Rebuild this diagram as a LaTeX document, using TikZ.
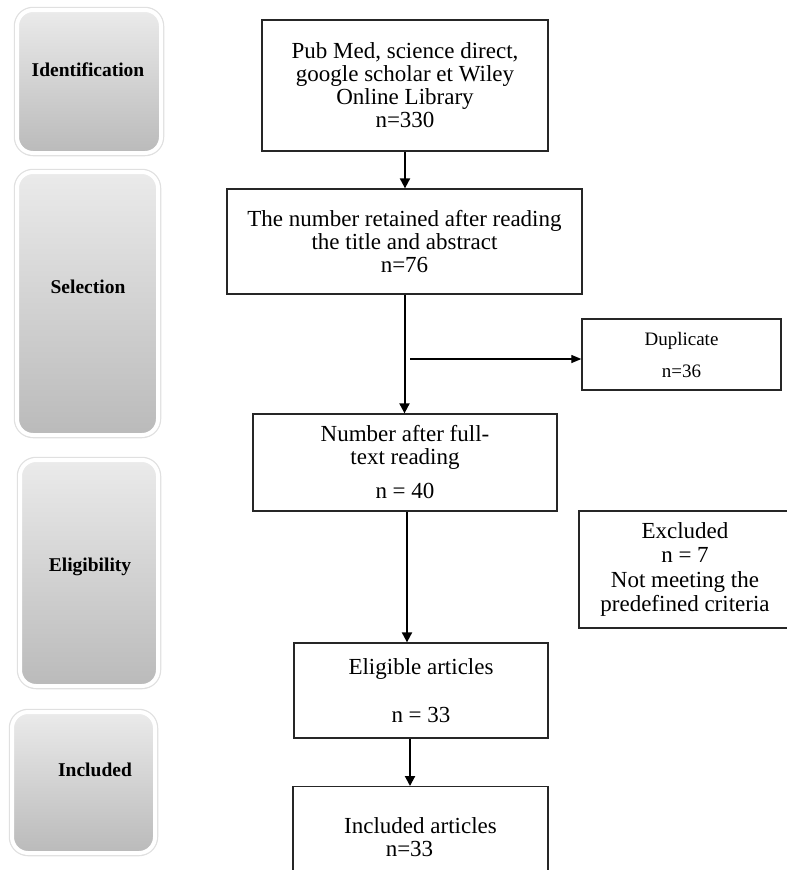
\documentclass[tikz,border=0pt]{standalone}
\usepackage{fontspec}
\setmainfont{Liberation Serif}
\usetikzlibrary{arrows.meta,positioning,shadows}

\tikzset{
  phase/.style={preaction={draw=black!12, line width=6.5pt, rounded corners=16pt},
    draw=white, line width=4pt, rounded corners=16pt,
    top color=black!8, bottom color=black!27,
    drop shadow={shadow xshift=0pt, shadow yshift=-2pt, opacity=0.2}},
  phaselabel/.style={font=\fontsize{19.5}{20}\selectfont\bfseries},
  flowbox/.style={draw=black!85, line width=1.3pt, align=center, inner sep=0pt},
  flowarrow/.style={line width=2pt, -{Triangle[width=10pt,length=10pt]}},
  sidearrow/.style={line width=1.2pt, -{Triangle[width=8pt,length=10pt]}}
}

\begin{document}
\begin{tikzpicture}[x=1pt,y=-1pt,font=\fontsize{23}{23}\selectfont]
\useasboundingbox (0,0) rectangle (787,870);

% colonna delle fasi
\node[phase, minimum width=144pt, minimum height=143pt] (identbox) at (89,81.5) {};
\node[phaselabel] (ident) at (88,70) {Identification};
\node[phase, minimum width=141pt, minimum height=263pt] (selbox) at (87.5,303.5) {};
\node[phaselabel] (sel) at (88,287) {Selection};
\node[phase, minimum width=138pt, minimum height=226pt] (eligbox) at (89,573) {};
\node[phaselabel] (elig) at (90,567) {Eligibility};
\node[phase, minimum width=143pt, minimum height=141pt] (inclbox) at (83.5,782.5) {};
\node[phaselabel] (incl) at (95,770) {Included};

% diagramma di flusso
\node[flowbox, minimum width=286pt, minimum height=131pt] (source) at (405,85.5)
  {Pub Med, science direct,\\ google scholar et Wiley\\ Online Library\\ n=330};
\node[flowbox, minimum width=355pt, minimum height=105pt] (retained) at (404.5,241.5)
  {The number retained after reading\\ the title and abstract\\ n=76};
\node[flowbox, minimum width=304pt, minimum height=97pt] (fulltext) at (405,462.5)
  {Number after full-\\ text reading\\[11pt] n = 40};
\node[flowbox, minimum width=199pt, minimum height=71pt,
      font=\fontsize{19}{20}\selectfont] (duplicate) at (681.5,354.5)
  {Duplicate\\[12pt] n=36};
\node[flowbox, minimum width=212pt, minimum height=117pt,
      font=\fontsize{23}{24.5}\selectfont] (excluded) at (685,569.5)
  {Excluded\\ n = 7\\ Not meeting the\\ predefined criteria};
\node[flowbox, minimum width=254pt, minimum height=95pt] (eligible) at (421,690.5)
  {Eligible articles\\[25pt] n = 33};
\node[flowbox, minimum width=255pt, minimum height=100pt, anchor=north] (included)
  at (420.5,786) {Included articles\\ \hspace*{-22pt}n=33}; % tagliato in basso

% frecce
\draw[flowarrow] (source.south) -- (source.south |- retained.north);
\draw[flowarrow] (retained.south) -- (retained.south |- fulltext.north);
\coordinate (branch) at (410,359); % diramazione verso i duplicati
\draw[sidearrow] (branch) -- (branch -| duplicate.west);
\draw[flowarrow] ([xshift=2pt]fulltext.south) -- ([xshift=2pt]fulltext.south |- eligible.north);
\draw[flowarrow] ([xshift=-11pt]eligible.south) -- ([xshift=-11pt]eligible.south |- included.north);
\end{tikzpicture}
\end{document}
